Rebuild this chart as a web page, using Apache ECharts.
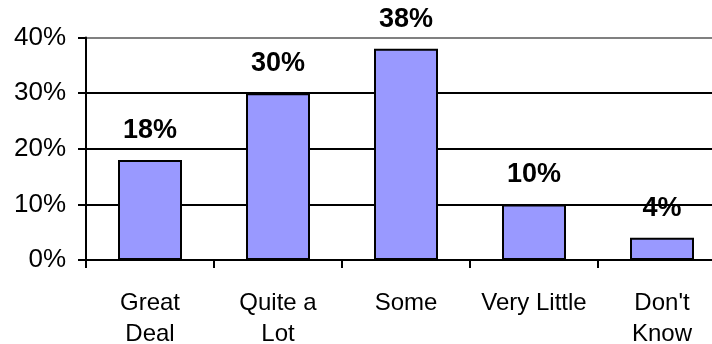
<!DOCTYPE html>
<html>
<head>
<meta charset="utf-8">
<script src="https://cdn.jsdelivr.net/npm/echarts@6/dist/echarts.min.js"></script>
<style>
  html, body { margin: 0; padding: 0; background: #fff; }
  #chart { width: 712px; height: 344px; }
</style>
</head>
<body>
<div id="chart"></div>
<script>
// Confidence levels (percent of respondents)
const categories = ['Great\nDeal', 'Quite a\nLot', 'Some', 'Very Little', "Don't\nKnow"];
const shares = [18, 30, 38, 10, 4];
const yTicks = [0, 10, 20, 30, 40];

const chart = echarts.init(document.getElementById('chart'), null, { renderer: 'canvas' });

chart.setOption({
  animation: false,
  backgroundColor: '#ffffff',
  // plot area runs past the right edge of the canvas
  grid: { left: 86, width: 640, top: 37.5, height: 222.5, containLabel: false, outerBoundsMode: 'none' },
  xAxis: {
    type: 'category',
    data: categories,
    axisLine: { show: true, lineStyle: { color: '#000', width: 2 } },
    axisTick: { show: true, length: 8, alignWithLabel: false, lineStyle: { color: '#000', width: 2 } },
    axisLabel: {
      color: '#000', fontFamily: 'Liberation Sans, Arial, sans-serif', fontSize: 24,
      lineHeight: 31, margin: 28, interval: 0
    },
    splitLine: { show: false }
  },
  yAxis: {
    type: 'value',
    min: yTicks[0],
    max: yTicks[yTicks.length - 1],
    interval: 10,
    axisLine: { show: true, lineStyle: { color: '#000', width: 2 } },
    axisTick: { show: true, length: 8, lineStyle: { color: '#000', width: 2 } },
    axisLabel: {
      color: '#000', fontFamily: 'Liberation Sans, Arial, sans-serif', fontSize: 26,
      margin: 20, formatter: v => v + '%'
    },
    splitLine: { show: true, lineStyle: { color: ['#000', '#000', '#000', '#000', '#808080'], width: 2 } }
  },
  series: [{
    type: 'bar',
    data: shares,
    barWidth: '50%',
    itemStyle: { color: '#9999ff', borderColor: '#000', borderWidth: 2 },
    label: {
      show: true, position: 'top', distance: 16,
      color: '#000', fontFamily: 'Liberation Sans, Arial, sans-serif',
      fontWeight: 'bold', fontSize: 27, formatter: p => p.value + '%'
    }
  }]
});
</script>
</body>
</html>
